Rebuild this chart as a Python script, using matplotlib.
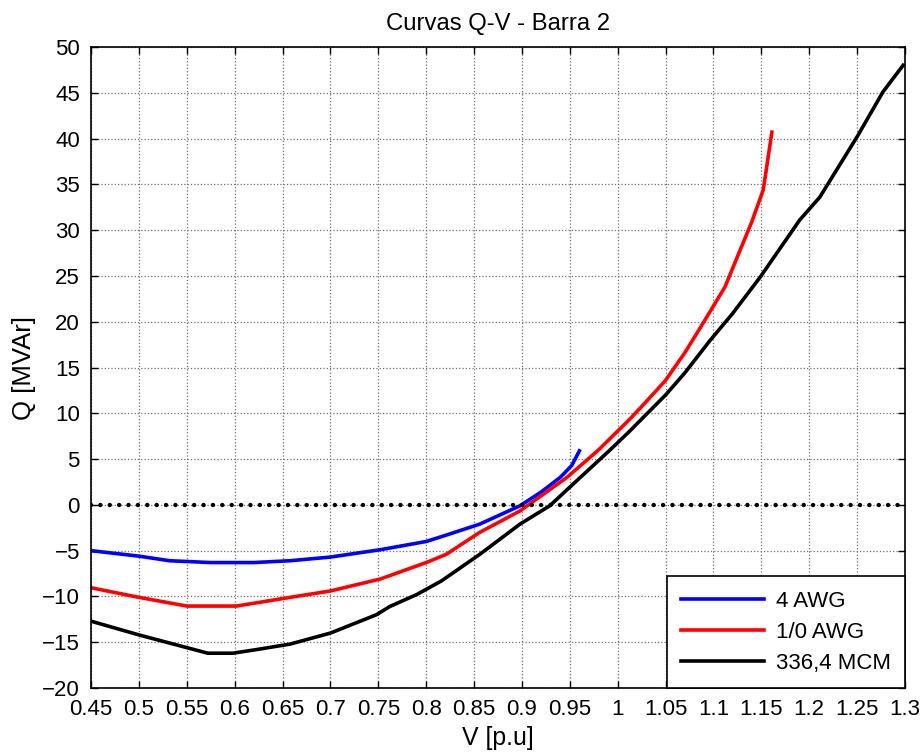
import matplotlib.pyplot as plt
import numpy as np

plt.rcParams['font.family'] = ['Liberation Sans', 'DejaVu Sans']

# 4 AWG
v_4awg = np.array([0.45, 0.50, 0.532, 0.575, 0.62, 0.658, 0.70, 0.752, 0.80, 0.821,
                   0.856, 0.898, 0.92, 0.94, 0.952, 0.96])
q_4awg = np.array([-5.0, -5.6, -6.1, -6.3, -6.3, -6.1, -5.7, -4.9, -4.0, -3.3,
                   -2.1, -0.1, 1.4, 3.0, 4.3, 5.9])

# 1/0 AWG
v_10awg = np.array([0.45, 0.50, 0.55, 0.602, 0.658, 0.70, 0.752, 0.80, 0.821, 0.856,
                    0.898, 0.947, 0.98, 1.013, 1.03, 1.05, 1.07, 1.086, 1.112, 1.14,
                    1.152, 1.161])
q_10awg = np.array([-9.05, -10.1, -11.05, -11.05, -10.1, -9.4, -8.1, -6.3, -5.4, -3.0,
                    -0.66, 3.0, 6.0, 9.4, 11.3, 13.6, 16.6, 19.3, 23.8, 30.9,
                    34.4, 40.7])

# 336,4 MCM
v_336 = np.array([0.45, 0.50, 0.572, 0.598, 0.623, 0.658, 0.70, 0.748, 0.762, 0.79,
                  0.816, 0.856, 0.898, 0.929, 0.961, 0.99, 1.013, 1.03, 1.05, 1.07,
                  1.096, 1.12, 1.149, 1.19, 1.211, 1.25, 1.277, 1.298])
q_336 = np.array([-12.7, -14.2, -16.2, -16.2, -15.8, -15.2, -14.0, -12.0, -11.1, -9.8,
                  -8.3, -5.4, -2.1, -0.1, 3.0, 5.8, 8.1, 9.9, 12.0, 14.4,
                  17.9, 20.9, 24.9, 31.1, 33.6, 40.2, 45.1, 48.0])

xticks = np.arange(0.45, 1.301, 0.05)
yticks = np.arange(-20, 51, 5)

fig = plt.figure(figsize=(9.23, 7.53), dpi=100)
ax = fig.add_axes([0.0986, 0.0863, 0.8819, 0.8513])

ax.plot(v_4awg, q_4awg, color='#0000ff', lw=2.6, label='4 AWG')
ax.plot(v_10awg, q_10awg, color='#ff0000', lw=2.6, label='1/0 AWG')
ax.plot(v_336, q_336, color='black', lw=2.6, label='336,4 MCM')
# linha de Q = 0
ax.axhline(0, color='black', lw=3.2, ls=(0, (0.01, 2.1)), dash_capstyle='round')

ax.set_xlim(0.45, 1.3)
ax.set_ylim(-20, 50)
ax.set_xticks(xticks)
ax.set_xticklabels(['%g' % round(t, 2) for t in xticks])
ax.set_yticks(yticks)
ax.grid(True, color='#707070', ls=':', lw=0.9)
ax.tick_params(direction='in', top=True, right=True, labelsize=16, length=5, width=1)
ax.tick_params(axis='x', pad=8)
ax.tick_params(axis='y', pad=8)
for s in ax.spines.values():
    s.set_linewidth(1.2)

ax.set_title('Curvas Q-V - Barra 2', fontsize=17.2, pad=12)
ax.set_xlabel('V [p.u]', fontsize=17.9, labelpad=4)
ax.set_ylabel('Q [MVAr]', fontsize=18.5, labelpad=4)

leg = ax.legend(loc='lower right', fontsize=16, fancybox=False, framealpha=1,
                edgecolor='black', borderaxespad=0, handlelength=3.75,
                handletextpad=0.5, labelspacing=0.45, borderpad=0.65)
leg.get_frame().set_linewidth(1.2)

fig.savefig('out.png', dpi=100)
